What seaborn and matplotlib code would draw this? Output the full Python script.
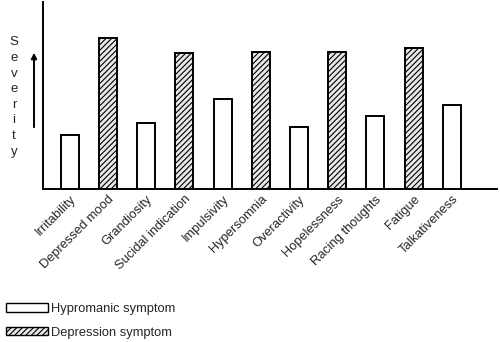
import matplotlib
matplotlib.use("Agg")
import matplotlib.pyplot as plt
import seaborn as sns
import pandas as pd
from matplotlib.patches import Patch, FancyArrowPatch

symptoms = ["Irritability", "Depressed mood", "Grandiosity", "Sucidal indication",
            "Impulsivity", "Hypersomnia", "Overactivity", "Hopelessness",
            "Racing thoughts", "Fatigue", "Talkativeness"]
severity = [54, 151, 66, 136, 90, 137, 62, 137, 73, 141, 84]
kinds = ["Hypromanic symptom", "Depression symptom", "Hypromanic symptom",
         "Depression symptom", "Hypromanic symptom", "Depression symptom",
         "Hypromanic symptom", "Depression symptom", "Hypromanic symptom",
         "Depression symptom", "Hypromanic symptom"]
legend_labels = ["Hypromanic symptom", "Depression symptom"]

df = pd.DataFrame({"symptom": symptoms, "severity": severity, "kind": kinds})

sns.set_style("white")
plt.rcParams["font.family"] = ["Liberation Sans", "DejaVu Sans"]
plt.rcParams["hatch.linewidth"] = 0.8
plt.rcParams["hatch.color"] = "#333333"

fig = plt.figure(figsize=(5, 3.42), dpi=100)
ax = fig.add_axes([0.086, 0.447, 0.908, 0.547])

sns.barplot(data=df, x="symptom", y="severity", hue="kind", dodge=False,
            palette={"Hypromanic symptom": "white", "Depression symptom": "#e8e8e8"},
            edgecolor="black", linewidth=1.4, width=0.47, legend=False, ax=ax)

for p in ax.patches:
    if p.get_height() > 0:
        idx = int(round(p.get_x() + p.get_width() / 2))
        if kinds[idx] == "Depression symptom":
            p.set_hatch("//////")

ax.set_xlim(-0.7, 11.18)
ax.set_ylim(0, 187)
ax.set_xlabel("")
ax.set_ylabel("")
ax.set_yticks([])
ax.tick_params(axis="x", length=0, pad=3)
ax.set_xticks(range(len(symptoms)))
ax.set_xticklabels(symptoms, rotation=45, ha="right", rotation_mode="anchor", fontsize=9.3)
for s in ["top", "right"]:
    ax.spines[s].set_visible(False)
for s in ["left", "bottom"]:
    ax.spines[s].set_color("black")
    ax.spines[s].set_linewidth(1.4)

# vertical "Severity" label
fig.text(14 / 500, 1 - 97 / 342, "\n".join("Severity"), ha="center", va="center",
         fontsize=9.5, linespacing=1.4)
# arrow
arr = FancyArrowPatch((34 / 500, 1 - 130 / 342), (34 / 500, 1 - 50 / 342),
                      transform=fig.transFigure, arrowstyle="-|>", mutation_scale=8,
                      color="black", linewidth=1.4)
fig.patches.append(arr)

handles = [Patch(facecolor="white", edgecolor="black", linewidth=1),
           Patch(facecolor="#e8e8e8", edgecolor="black", linewidth=1, hatch="//////")]
fig.legend(handles, legend_labels, loc="lower left", bbox_to_anchor=(0.005, 0.0),
           frameon=False, fontsize=9.3, handlelength=3.25, handleheight=0.62,
           handletextpad=0.25, labelspacing=0.9, borderaxespad=0.0, borderpad=0.25)

fig.savefig("out.png", dpi=100)
